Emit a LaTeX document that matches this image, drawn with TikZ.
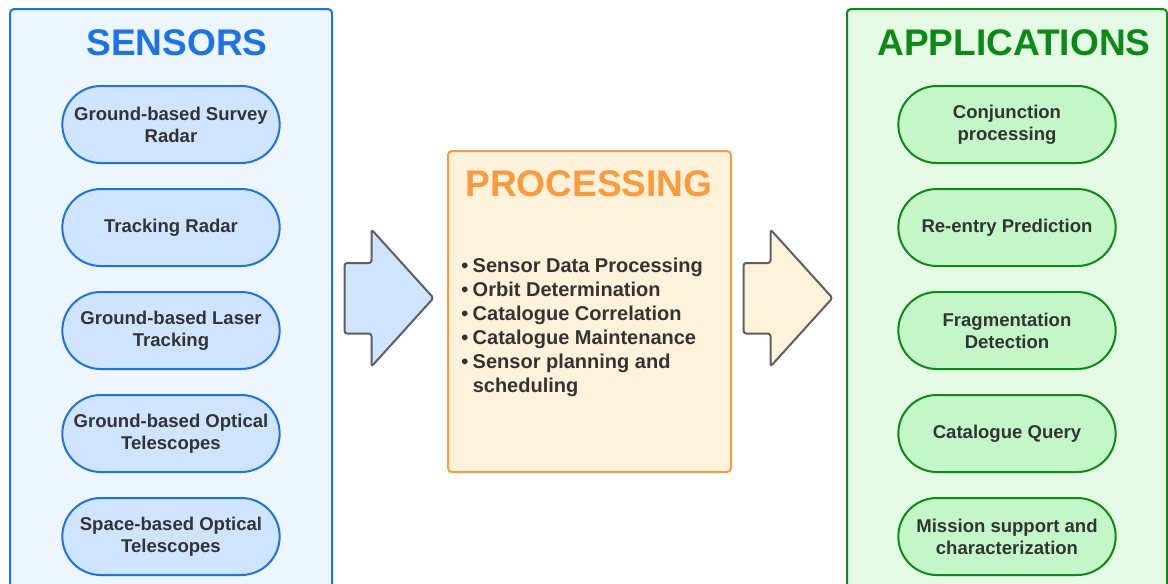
\documentclass[tikz,border=0pt]{standalone}
\usepackage{fontspec}
\setmainfont{Liberation Sans}
\usetikzlibrary{shapes.misc}

\definecolor{txtdark}{HTML}{333333}
\definecolor{sensline}{HTML}{1A73E8}
\definecolor{sensbg}{HTML}{EDF5FF}
\definecolor{senspill}{HTML}{CFE4FF}
\definecolor{appline}{HTML}{0B8A16}
\definecolor{appbg}{HTML}{E4FAE4}
\definecolor{apppill}{HTML}{C4F7C8}
\definecolor{procline}{HTML}{FF9A3C}
\definecolor{procbg}{HTML}{FFF2DA}
\definecolor{arrline}{HTML}{5E5E5E}

\tikzset{
  panel/.style={line width=1.5pt, rounded corners=3pt},
  pill/.style={rounded rectangle, line width=1.5pt, minimum width=167pt,
    minimum height=57.75pt, inner sep=2pt, align=center, text=txtdark,
    font=\bfseries\fontsize{13.9}{16.5}\selectfont},
  senspillbox/.style={pill, draw=sensline, fill=senspill},
  apppillbox/.style={pill, draw=appline, fill=apppill},
  heading/.style={anchor=base, font=\bfseries\fontsize{27.8}{32}\selectfont},
  item/.style={anchor=base west, inner sep=0pt, text=txtdark,
    font=\bfseries\fontsize{15}{18}\selectfont},
  flowarrow/.style={draw=arrline, line width=1.5pt, rounded corners=2pt, line join=round},
}

\newcommand{\bul}{\makebox[8.6pt][l]{•}}

\begin{document}
\begin{tikzpicture}[x=0.75pt, y=-0.75pt]
\useasboundingbox (0,0) rectangle (1168,583);
\clip (0,0) rectangle (1168,583);

% column panels (they run past the lower edge)
\draw[panel, draw=sensline, fill=sensbg] (10,9) rectangle (332,620);
\draw[panel, draw=appline, fill=appbg] (847,9) rectangle (1167,620);
\draw[panel, draw=procline, fill=procbg, rounded corners=3pt] (448,151) rectangle (731,472);

% headings
\node[heading, text=sensline] (hsens) at (177,55) {SENSORS};
\node[heading, text=procline] (hproc) at (589,196.5) {PROCESSING};
\node[heading, text=appline] (happ) at (1014,55) {APPLICATIONS};

% sensors
\node[senspillbox] (s1) at (171,124.5) {Ground-based Survey\\Radar};
\node[senspillbox] (s2) at (171,227.5) {Tracking Radar};
\node[senspillbox] (s3) at (171,330.5) {Ground-based Laser\\Tracking};
\node[senspillbox] (s4) at (171,433.5) {Ground-based Optical\\Telescopes};
\node[senspillbox] (s5) at (171,536.5) {Space-based Optical\\Telescopes};

% applications
\node[apppillbox] (a1) at (1007,124.5) {Conjunction\\processing};
\node[apppillbox] (a2) at (1007,227.5) {Re-entry Prediction};
\node[apppillbox] (a3) at (1007,330.5) {Fragmentation\\Detection};
\node[apppillbox] (a4) at (1007,433.5) {Catalogue Query};
\node[apppillbox] (a5) at (1007,536.5) {Mission support and\\characterization};

% processing tasks
\node[item] (p1) at (461,272.5) {\bul Sensor Data Processing};
\node[item] (p2) at (461,296.5) {\bul Orbit Determination};
\node[item] (p3) at (461,320.5) {\bul Catalogue Correlation};
\node[item] (p4) at (461,344.5) {\bul Catalogue Maintenance};
\node[item] (p5) at (461,368.5) {\bul Sensor planning and};
\node[item] (p6) at (472.5,392.5) {scheduling};

% block arrows between the stages
\draw[flowarrow, fill=senspill] (344.5,263) -- (371.5,263) -- (371.5,229.5)
  -- (433.5,298) -- (371.5,366.5) -- (371.5,333.5) -- (344.5,333.5) -- cycle;
\draw[flowarrow, fill=procbg] (743.5,263) -- (770.5,263) -- (770.5,229.5)
  -- (832.5,298) -- (770.5,366.5) -- (770.5,333.5) -- (743.5,333.5) -- cycle;
\end{tikzpicture}
\end{document}
